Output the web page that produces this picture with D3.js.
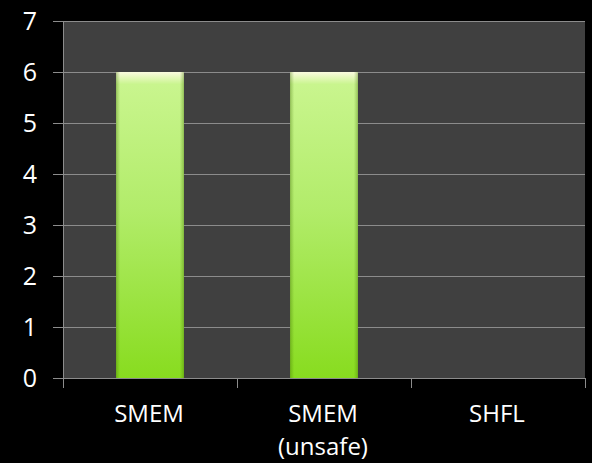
<!DOCTYPE html>
<html>
<head>
<meta charset="utf-8">
<script src="https://cdn.jsdelivr.net/npm/d3@7/dist/d3.min.js"></script>
<style>
  html, body { margin: 0; padding: 0; background: #000; }
  svg { display: block; }
</style>
</head>
<body>
<script>
// Chart data
const categories = ["SMEM", "SMEM\n(unsafe)", "SHFL"];
const values = [6, 6, 0];
const yTicks = [0, 1, 2, 3, 4, 5, 6, 7];

const W = 592, H = 463;
const margin = { left: 63, right: 7, top: 21, bottom: 85 };

const svg = d3.select("body").append("svg")
  .attr("width", W).attr("height", H)
  .style("background", "#000");

const x = d3.scaleBand()
  .domain(categories)
  .range([margin.left, W - margin.right])
  .paddingInner(0.61)
  .paddingOuter(0.305);

const y = d3.scaleLinear()
  .domain([0, 7])
  .range([H - margin.bottom, margin.top]);

// Bar fill gradients
const defs = svg.append("defs");
const vg = defs.append("linearGradient")
  .attr("id", "barV").attr("x1", 0).attr("y1", 0).attr("x2", 0).attr("y2", 1);
vg.append("stop").attr("offset", "0%").attr("stop-color", "#fbfbe0");
vg.append("stop").attr("offset", "1.5%").attr("stop-color", "#e8f8c0");
vg.append("stop").attr("offset", "4%").attr("stop-color", "#c9f58e");
vg.append("stop").attr("offset", "45%").attr("stop-color", "#b2ec6a");
vg.append("stop").attr("offset", "100%").attr("stop-color", "#88dc1f");

const hg = defs.append("linearGradient")
  .attr("id", "barH").attr("x1", 0).attr("y1", 0).attr("x2", 1).attr("y2", 0);
hg.append("stop").attr("offset", "0%").attr("stop-color", "#3c6a00").attr("stop-opacity", 0.35);
hg.append("stop").attr("offset", "6%").attr("stop-color", "#3c6a00").attr("stop-opacity", 0);
hg.append("stop").attr("offset", "94%").attr("stop-color", "#3c6a00").attr("stop-opacity", 0);
hg.append("stop").attr("offset", "100%").attr("stop-color", "#3c6a00").attr("stop-opacity", 0.35);

// Plot background
svg.append("rect")
  .attr("x", margin.left).attr("y", margin.top)
  .attr("width", W - margin.right - margin.left)
  .attr("height", H - margin.bottom - margin.top)
  .attr("fill", "#404040");

// Horizontal gridlines
svg.append("g")
  .selectAll("line")
  .data(yTicks.filter(d => d > 0))
  .join("line")
  .attr("x1", margin.left).attr("x2", W - margin.right)
  .attr("y1", d => y(d) + 0.5).attr("y2", d => y(d) + 0.5)
  .attr("stroke", "#8c8c8c").attr("stroke-width", 1);

// Bars
const bars = svg.append("g")
  .selectAll("g")
  .data(categories.map((c, i) => ({ c, v: values[i] })).filter(d => d.v > 0))
  .join("g");
bars.append("rect")
  .attr("x", d => x(d.c)).attr("y", d => y(d.v))
  .attr("width", x.bandwidth()).attr("height", d => y(0) - y(d.v))
  .attr("fill", "url(#barV)");
bars.append("rect")
  .attr("x", d => x(d.c)).attr("y", d => y(d.v))
  .attr("width", x.bandwidth()).attr("height", d => y(0) - y(d.v))
  .attr("fill", "url(#barH)");

// Y axis
const yAxis = svg.append("g")
  .attr("transform", `translate(${margin.left},0)`)
  .call(d3.axisLeft(y).tickValues(yTicks).tickSize(10).tickPadding(14).tickFormat(d3.format("d")));
yAxis.select(".domain").attr("stroke", "#8c8c8c");
yAxis.selectAll(".tick line").attr("stroke", "#8c8c8c");
yAxis.selectAll(".tick text")
  .attr("fill", "#fff")
  .attr("font-family", "'Open Sans', sans-serif")
  .attr("font-size", 25)
  .attr("text-anchor", "middle")
  .attr("x", -33);

// X axis: ticks at band boundaries
const boundaries = [margin.left].concat(categories.map(c => x(c) - x.step() * x.paddingInner() / 2 + x.step()));
const xAxis = svg.append("g");
xAxis.append("line")
  .attr("x1", margin.left).attr("x2", W - margin.right)
  .attr("y1", y(0) + 0.5).attr("y2", y(0) + 0.5)
  .attr("stroke", "#8c8c8c");
xAxis.selectAll("line.tk")
  .data(boundaries)
  .join("line").attr("class", "tk")
  .attr("x1", d => d + 0.5).attr("x2", d => d + 0.5)
  .attr("y1", y(0)).attr("y2", y(0) + 10)
  .attr("stroke", "#8c8c8c");

const labels = xAxis.selectAll("text")
  .data(categories)
  .join("text")
  .attr("x", d => x(d) + x.bandwidth() / 2 - 1)
  .attr("y", y(0) + 44)
  .attr("fill", "#fff")
  .attr("font-family", "'Open Sans', sans-serif")
  .attr("font-size", 24)
  .attr("text-anchor", "middle");
labels.selectAll("tspan")
  .data(d => d.split("\n"))
  .join("tspan")
  .attr("x", function() { return d3.select(this.parentNode).attr("x"); })
  .attr("dy", (d, i) => i === 0 ? 0 : 33)
  .text(d => d);
</script>
</body>
</html>
